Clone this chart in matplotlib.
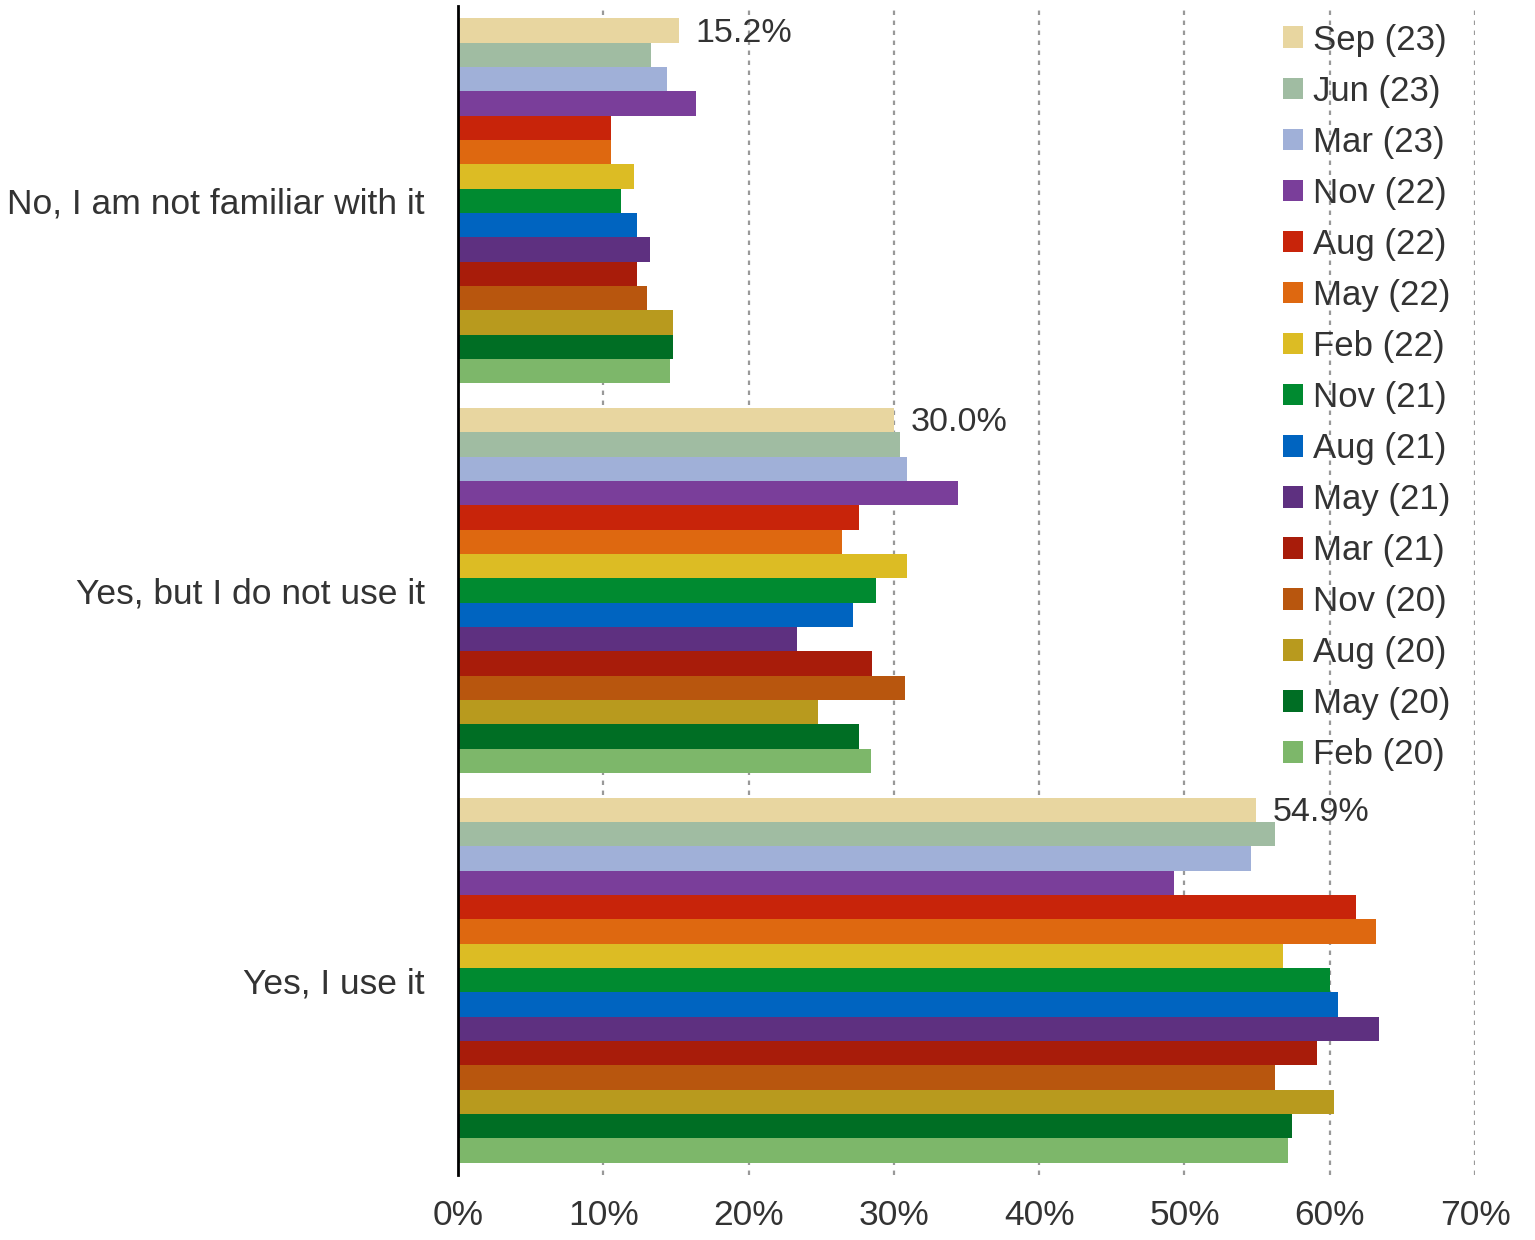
import matplotlib
matplotlib.use("Agg")
import matplotlib.pyplot as plt
import numpy as np

categories = ["No, I am not familiar with it", "Yes, but I do not use it", "Yes, I use it"]
series_labels = ["Sep (23)", "Jun (23)", "Mar (23)", "Nov (22)", "Aug (22)", "May (22)",
                 "Feb (22)", "Nov (21)", "Aug (21)", "May (21)", "Mar (21)", "Nov (20)",
                 "Aug (20)", "May (20)", "Feb (20)"]
colors = ["#E8D6A0", "#A0BCA2", "#A0B0D8", "#7A3E9A", "#C8240A", "#DE6810",
          "#DCBC24", "#008A30", "#0064C0", "#5E3080", "#A81C0A", "#B8560E",
          "#B89A1E", "#006E24", "#7DB76A"]
# values per series: [not familiar, familiar but not using, using]
values = [
    [15.2, 30.0, 54.9],
    [13.3, 30.4, 56.2],
    [14.4, 30.9, 54.6],
    [16.4, 34.4, 49.3],
    [10.5, 27.6, 61.8],
    [10.5, 26.4, 63.2],
    [12.1, 30.9, 56.8],
    [11.2, 28.8, 60.0],
    [12.3, 27.2, 60.6],
    [13.2, 23.3, 63.4],
    [12.3, 28.5, 59.1],
    [13.0, 30.8, 56.2],
    [14.8, 24.8, 60.3],
    [14.8, 27.6, 57.4],
    [14.6, 28.4, 57.1],
]
xticks = [0, 10, 20, 30, 40, 50, 60, 70]

plt.rcParams['font.family'] = ['Liberation Sans', 'DejaVu Sans']
text_color = "#333333"

fig = plt.figure(figsize=(15.35, 12.4), dpi=100)
ax = fig.add_axes([458/1535, 1 - 1175/1240, 1017/1535, (1175 - 6)/1240])

n = len(series_labels)
h = 1.0 / 16
y_base = np.arange(len(categories))
handles = []
for i, (lab, col, vals) in enumerate(zip(series_labels, colors, values)):
    ypos = y_base - (n - 1) / 2 * h + i * h
    b = ax.barh(ypos, vals, height=h, color=col, label=lab, zorder=2, linewidth=0)
    handles.append(b)
    if i == 0:
        for yy, v in zip(ypos, vals):
            ax.annotate(f"{v:.1f}%", xy=(v, yy), xytext=(12, -2), textcoords="offset points",
                        va="center", ha="left", fontsize=24.5, color=text_color)

ax.set_ylim(2.5, -0.5)
ax.set_xlim(0, 70)
ax.set_yticks(y_base)
ax.set_yticklabels(categories, fontsize=25.5, color=text_color)
ax.set_xticks(xticks)
ax.set_xticklabels([f"{t}%" for t in xticks], fontsize=25.5, color=text_color)
ax.tick_params(axis='y', length=0, pad=24)
ax.tick_params(axis='x', length=0, pad=17)
for s in ["top", "right", "bottom"]:
    ax.spines[s].set_visible(False)
ax.spines["left"].set_linewidth(2)
ax.spines["left"].set_color("black")
ax.spines["left"].set_zorder(3)
ax.xaxis.grid(True, color="#999999", linestyle=(0, (2, 2.5)), linewidth=1.6, zorder=0)
ax.set_axisbelow(True)

leg = ax.legend(handles=handles, loc="upper left", bbox_to_anchor=(0.811, 0.985),
                frameon=False, fontsize=25, handlelength=0.58, handleheight=0.58,
                handletextpad=0.3, labelspacing=0.52, borderaxespad=0, borderpad=0)
for t in leg.get_texts():
    t.set_color(text_color)

fig.savefig("out.png", dpi=100)
